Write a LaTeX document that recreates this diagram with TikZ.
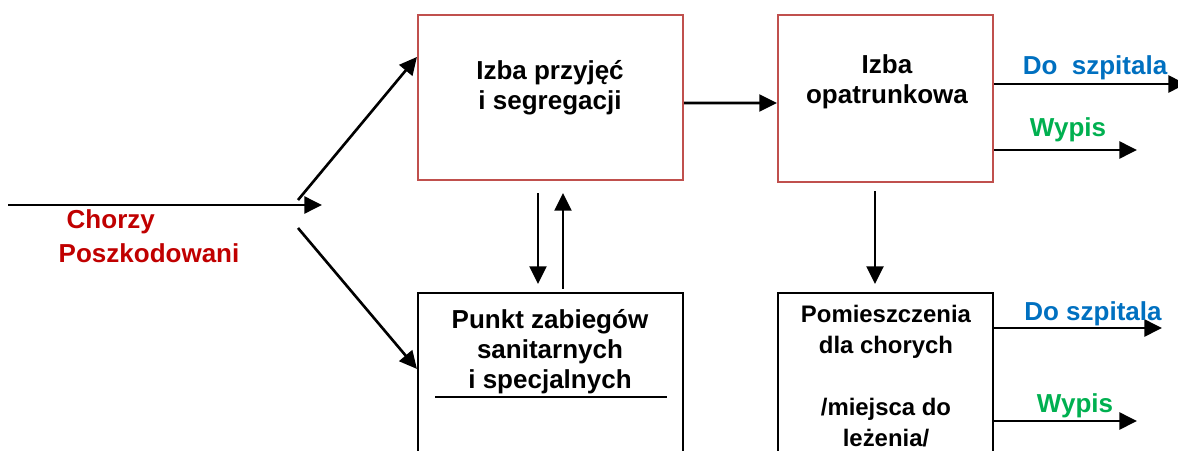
\documentclass[tikz,border=0pt]{standalone}
\usepackage{fontspec}
\setmainfont{Liberation Sans}
\usetikzlibrary{arrows.meta,positioning}
\definecolor{ramka}{RGB}{192,80,77}
\definecolor{czerwony}{RGB}{192,0,0}
\definecolor{niebieski}{RGB}{0,112,192}
\definecolor{zielony}{RGB}{0,176,80}
\tikzset{
  izba/.style={draw=ramka, line width=0.6pt, inner sep=0pt},
  sala/.style={draw=black, line width=0.6pt, inner sep=0pt},
  napis/.style={align=center, inner sep=0pt, font=\bfseries\fontsize{7.4}{8.5}\selectfont},
  strzalka/.style={line width=0.75pt, -{Triangle[length=5pt,width=4.8pt]}}
}
\begin{document}
\begin{tikzpicture}
  \useasboundingbox (0,0) rectangle (11.78,4.5);
  \clip (0,0) rectangle (11.78,4.5);

  \node[izba, minimum width=2.65cm, minimum height=1.65cm] (przyjecia) at (5.505,3.525) {};
  \node[izba, minimum width=2.15cm, minimum height=1.67cm] (opatrunkowa) at (8.855,3.515) {};
  \node[sala, minimum width=2.65cm, minimum height=1.77cm] (punkt) at (5.505,0.685) {};
  \node[sala, minimum width=2.15cm, minimum height=1.77cm] (pomieszczenia) at (8.855,0.685) {};
  \draw[line width=0.6pt] (4.35,0.53) -- (6.67,0.53);

  \node[napis] (przyjeciaTxt) at (5.50,3.62) {Izba przyjęć\\i segregacji};
  \node[napis] (opatrunkowaTxt) at (8.87,3.685) {Izba\\opatrunkowa};
  \node[napis] (punktTxt) at (5.50,0.98) {Punkt zabiegów\\sanitarnych\\i specjalnych};
  \node[napis, font=\bfseries\fontsize{6.8}{8.8}\selectfont] (pomieszczeniaTxt) at (8.86,0.74)
    {Pomieszczenia\\dla chorych\\[8.8pt]/miejsca do\\leżenia/};

  \node[napis, text=czerwony, anchor=west] (chorzy) at (0.66,2.28) {Chorzy};
  \node[napis, text=czerwony, anchor=west] (poszkodowani) at (0.58,1.97) {Poszkodowani};

  \coordinate (start) at (0.08,2.45);
  \coordinate (wejscie) at (3.22,2.45);
  \coordinate (rozgalGora) at (2.98,2.50);
  \coordinate (rozgalDol) at (2.98,2.22);
  \draw[strzalka] (start) -- (wejscie);
  \draw[strzalka] (rozgalGora) -- ([yshift=-0.43cm]przyjecia.north west);
  \draw[strzalka] (rozgalDol) -- ([yshift=-0.77cm]punkt.north west);

  \draw[strzalka, shorten <=0.12cm, shorten >=0.08cm] ([xshift=-0.125cm]przyjecia.south) -- ([xshift=-0.125cm]punkt.north);
  \draw[strzalka, shorten <=0.03cm, shorten >=0.12cm] ([xshift=0.125cm]punkt.north) -- ([xshift=0.125cm]przyjecia.south);
  \draw[strzalka] ([yshift=-0.055cm]przyjecia.east) -- ([yshift=-0.045cm]opatrunkowa.west);
  \draw[strzalka, shorten <=0.08cm, shorten >=0.08cm] ([xshift=-0.105cm]opatrunkowa.south) -- ([xshift=-0.105cm]pomieszczenia.north);

  \coordinate (szpital1) at (11.86,3.66);
  \coordinate (wypis1) at (11.37,3.00);
  \coordinate (szpital2) at (11.62,1.22);
  \coordinate (wypis2) at (11.37,0.29);
  \draw[strzalka] (opatrunkowa.east |- szpital1) -- (szpital1);
  \draw[strzalka] (opatrunkowa.east |- wypis1) -- (wypis1);
  \draw[strzalka] (pomieszczenia.east |- szpital2) -- (szpital2);
  \draw[strzalka] (pomieszczenia.east |- wypis2) -- (wypis2);

  \node[napis, text=niebieski] (doSzpitala1) at (10.95,3.82) {Do\ \ szpitala};
  \node[napis, text=zielony] (wypisTxt1) at (10.68,3.20) {Wypis};
  \node[napis, text=niebieski] (doSzpitala2) at (10.93,1.36) {Do szpitala};
  \node[napis, text=zielony] (wypisTxt2) at (10.75,0.44) {Wypis};
\end{tikzpicture}
\end{document}
